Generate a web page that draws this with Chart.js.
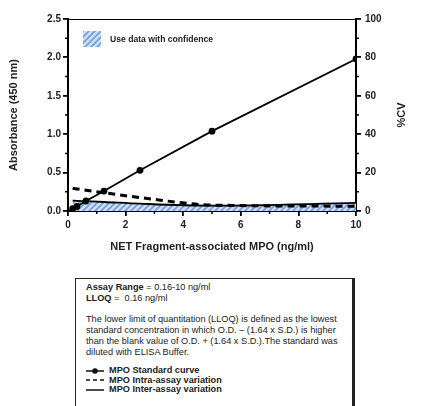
<!DOCTYPE html>
<html>
<head>
<meta charset="utf-8">
<script src="https://cdn.jsdelivr.net/npm/chart.js@4"></script>
<style>
  body { margin: 0; background: #fff; width: 429px; height: 406px; overflow: hidden; position: relative; font-family: "Liberation Sans", Arial, sans-serif; color: #222; }
  #wrap { position: absolute; left: 0; top: 0; width: 429px; height: 268px; }
  #info { position: absolute; left: 75px; top: 278px; width: 264px; height: 160px; border: 1px solid #222; border-right: 3px solid #222; padding: 3px 2px 4px 10px; font-size: 9.2px; line-height: 11px; }
  #info b { font-weight: bold; }
  #info p { margin: 0; }
  .key { display: flex; align-items: center; line-height: 9.6px; font-weight: bold; }
  .key svg { margin-right: 5px; }
</style>
</head>
<body>
<div id="wrap"><canvas id="chart"></canvas></div>
<div id="info">
  <p><b>Assay Range</b> = 0.16-10 ng/ml</p>
  <p><b>LLOQ</b> =&nbsp; 0.16 ng/ml</p>
  <p style="margin-top:10px">The lower limit of quantitation (LLOQ) is defined as the lowest standard concentration in which O.D. – (1.64 x S.D.) is higher than the blank value of O.D. + (1.64 x S.D.).The standard was diluted with ELISA Buffer.</p>
  <div style="margin-top:8px">
    <div class="key"><svg width="18" height="8"><line x1="0" y1="4" x2="18" y2="4" stroke="#111" stroke-width="1.5"/><circle cx="9" cy="4" r="2.8" fill="#111"/></svg>MPO Standard curve</div>
    <div class="key"><svg width="18" height="8"><line x1="0" y1="4" x2="18" y2="4" stroke="#111" stroke-width="1.5" stroke-dasharray="4,3"/></svg>MPO Intra-assay variation</div>
    <div class="key"><svg width="18" height="8"><line x1="0" y1="4" x2="18" y2="4" stroke="#111" stroke-width="1.5"/></svg>MPO Inter-assay variation</div>
  </div>
</div>
<script>
/* Concentrations of the standards (ng/ml). */
const concentrations = [0.16, 0.31, 0.625, 1.25, 2.5, 5, 10]

/* Absorbance at 450 nm for each standard. */
const absorbance = [0.03, 0.06, 0.13, 0.26, 0.53, 1.04, 1.98]

/* %CV values. */
const intraCV = [11.8, 11.5, 10.8, 9.5, 7.0, 3.1, 2.5]
const interCV = [5.4, 5.3, 5.1, 4.7, 3.8, 2.8, 4.2]

/* Tick settings. */
const xTicks = [0, 2, 4, 6, 8, 10]
const absTicks = [0, 0.5, 1.0, 1.5, 2.0, 2.5]
const cvTicks = [0, 20, 40, 60, 80, 100]

const legendLabel = "Use data with confidence"
const textColor = "#222"
const fontFamily = "'Liberation Sans', Arial, sans-serif"

const toPoints = (xs, ys) => xs.map((x, i) => ({ x, y: ys[i] }))

/* Diagonal hatch pattern used for the confidence area. */
const makeHatch = () => {
  const c = document.createElement("canvas")
  c.width = 6
  c.height = 6
  const g = c.getContext("2d")
  g.fillStyle = "#cfe0f4"
  g.fillRect(0, 0, 6, 6)
  g.strokeStyle = "#6f9fdb"
  g.lineWidth = 1.6
  g.beginPath()
  g.moveTo(-1, 7); g.lineTo(7, -1)
  g.moveTo(-4, 4); g.lineTo(4, -4)
  g.moveTo(2, 10); g.lineTo(10, 2)
  g.stroke()
  return g.createPattern(c, "repeat")
}
const hatch = makeHatch()

/* Plugin for minor ticks, top border, right title and the inline legend. */
const extras = {
  id: "extras",
  afterDraw(chart) {
    const ctx = chart.ctx
    const area = chart.chartArea
    const x = chart.scales.x
    const y = chart.scales.y
    const y1 = chart.scales.y1
    ctx.save()
    ctx.strokeStyle = "#000"
    ctx.lineWidth = 1.5
    ctx.beginPath()
    for (let v = 1; v < 10; v += 2) {
      const px = x.getPixelForValue(v)
      ctx.moveTo(px, area.bottom); ctx.lineTo(px, area.bottom + 3)
    }
    for (let v = 0.25; v < 2.5; v += 0.5) {
      const py = y.getPixelForValue(v)
      ctx.moveTo(area.left, py); ctx.lineTo(area.left - 3, py)
    }
    for (let v = 10; v < 100; v += 20) {
      const py = y1.getPixelForValue(v)
      ctx.moveTo(area.right, py); ctx.lineTo(area.right + 3, py)
    }
    ctx.stroke()

    /* Top border. */
    ctx.lineWidth = 1
    ctx.beginPath()
    ctx.moveTo(area.left, area.top + 0.5)
    ctx.lineTo(area.right, area.top + 0.5)
    ctx.stroke()

    /* Right axis title reading bottom to top. */
    ctx.fillStyle = textColor
    ctx.font = "bold 11px " + fontFamily
    ctx.textAlign = "center"
    ctx.textBaseline = "middle"
    ctx.translate(402, (area.top + area.bottom) / 2)
    ctx.rotate(-Math.PI / 2)
    ctx.fillText("%CV", 0, 0)
    ctx.restore()

    /* Legend swatch. */
    ctx.save()
    ctx.fillStyle = hatch
    ctx.fillRect(area.left + 15, area.top + 12, 18, 16)
    ctx.fillStyle = textColor
    ctx.font = "bold 8.6px " + fontFamily
    ctx.textBaseline = "middle"
    ctx.fillText(legendLabel, area.left + 42, area.top + 21)
    ctx.restore()
  }
}

const ctx = document.getElementById("chart").getContext("2d")
const chart = new Chart(ctx, {
  type: "line",
  data: {
    datasets: [{
      label: "MPO Standard curve",
      data: toPoints(concentrations, absorbance),
      yAxisID: "y",
      borderColor: "#000",
      backgroundColor: "#000",
      borderWidth: 1.8,
      pointRadius: 3.4,
      pointBorderWidth: 0,
      tension: 0
    }, {
      label: "MPO Intra-assay variation",
      data: toPoints(concentrations, intraCV),
      yAxisID: "y1",
      borderColor: "#000",
      borderWidth: 3,
      borderDash: [7, 5],
      pointRadius: 0,
      cubicInterpolationMode: "monotone"
    }, {
      label: "MPO Inter-assay variation",
      data: toPoints(concentrations, interCV),
      yAxisID: "y1",
      borderColor: "#000",
      borderWidth: 1.8,
      pointRadius: 0,
      cubicInterpolationMode: "monotone",
      fill: "origin",
      backgroundColor: hatch
    }]
  },
  options: {
    responsive: true,
    maintainAspectRatio: false,
    animation: false,
    layout: { padding: { top: 19, left: 0, right: 0, bottom: 0 } },
    plugins: {
      legend: { display: false },
      tooltip: { enabled: false }
    },
    scales: {
      x: {
        type: "linear",
        min: 0,
        max: 10,
        afterBuildTicks: scale => { scale.ticks = xTicks.map(value => ({ value })) },
        afterFit: scale => { scale.height = 57 },
        ticks: { color: textColor, font: { family: fontFamily, size: 10, weight: "bold" }, padding: 3, maxRotation: 0 },
        grid: { drawOnChartArea: false, color: "#000", lineWidth: 1.8, tickLength: 5 },
        border: { color: "#000", width: 2 },
        title: {
          display: true,
          text: "NET Fragment-associated MPO (ng/ml)",
          color: textColor,
          font: { family: fontFamily, size: 11, weight: "bold" },
          padding: { top: 4, bottom: 14 }
        }
      },
      y: {
        position: "left",
        min: 0,
        max: 2.5,
        afterBuildTicks: scale => { scale.ticks = absTicks.map(value => ({ value })) },
        afterFit: scale => { scale.width = 68 },
        ticks: { color: textColor, font: { family: fontFamily, size: 10, weight: "bold" }, padding: 2, callback: v => v.toFixed(1) },
        grid: { drawOnChartArea: false, color: "#000", lineWidth: 1.8, tickLength: 5 },
        border: { color: "#000", width: 2 },
        title: {
          display: true,
          text: "Absorbance (450 nm)",
          color: textColor,
          font: { family: fontFamily, size: 11, weight: "bold" },
          padding: { top: 7, bottom: 0 }
        }
      },
      y1: {
        position: "right",
        min: 0,
        max: 100,
        afterBuildTicks: scale => { scale.ticks = cvTicks.map(value => ({ value })) },
        afterFit: scale => { scale.width = 73 },
        ticks: { color: textColor, font: { family: fontFamily, size: 10, weight: "bold" }, padding: 4 },
        grid: { drawOnChartArea: false, color: "#000", lineWidth: 1.8, tickLength: 5 },
        border: { color: "#000", width: 2 }
      }
    }
  },
  plugins: [extras]
})
</script>
</body>
</html>
